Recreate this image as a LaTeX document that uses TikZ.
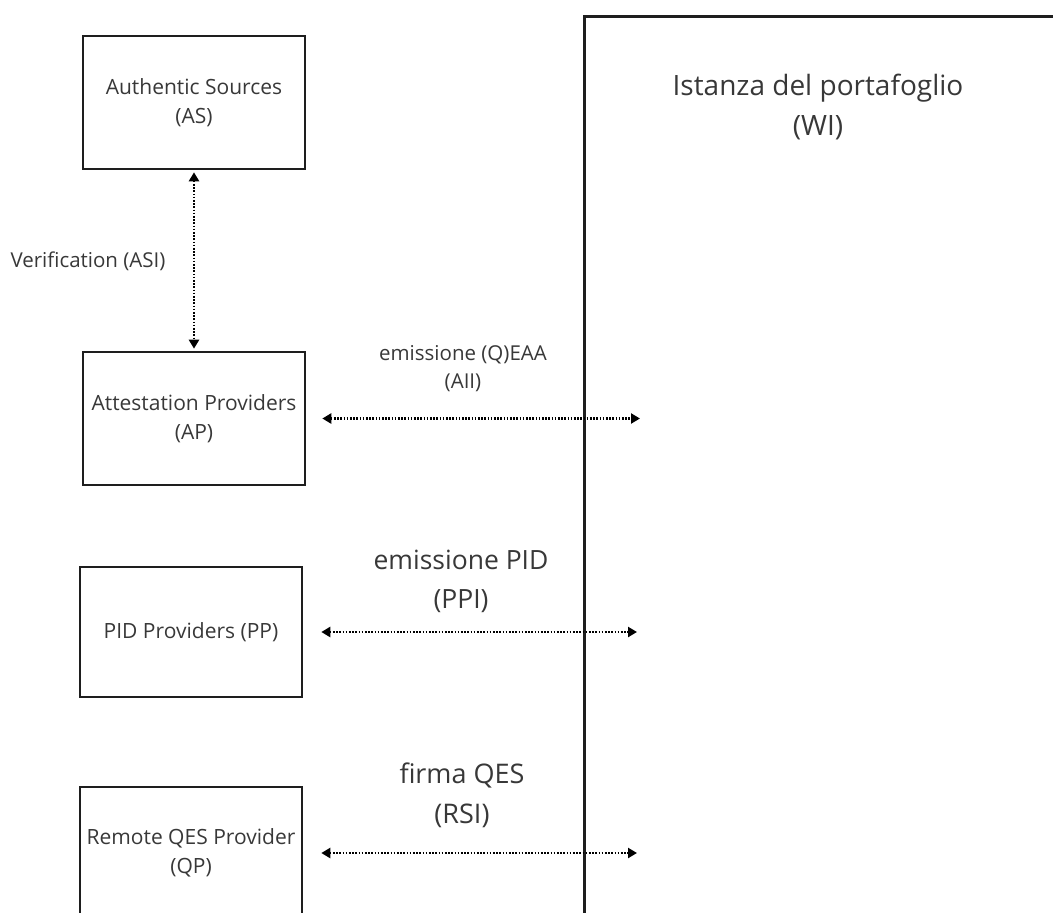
\documentclass[tikz,border=0pt]{standalone}
\usepackage{fontspec}
\setmainfont{Open Sans}
\usetikzlibrary{arrows.meta}
\definecolor{ink}{HTML}{383838}
\definecolor{edge}{HTML}{1E1E1E}
\begin{document}
\begin{tikzpicture}[x=1pt,y=-1pt,
  box/.style={draw=edge, line width=2.6pt, minimum width=222pt, minimum height=133pt,
    inner sep=0pt, align=center, text=ink, font=\fontsize{21}{29}\selectfont},
  small/.style={text=ink, align=center, inner sep=0pt, font=\fontsize{20.5}{28}\selectfont},
  big/.style={text=ink, align=center, inner sep=0pt, font=\fontsize{26.5}{39}\selectfont},
  link/.style={draw=black, line width=2.6pt, dash pattern=on 1.6pt off 1.6pt,
    {Triangle[length=9pt,width=10pt]}-{Triangle[length=9pt,width=10pt]}}
]
\useasboundingbox (0,0) rectangle (1053,913);
\clip (0,0) rectangle (1053,913);

% wallet instance, running past the right and bottom edges
\node[draw=edge, line width=2.6pt, anchor=north west, minimum width=560pt,
  minimum height=1000pt, inner sep=0pt] (WI) at (583,15) {};
\node[big, font=\fontsize{28}{40}\selectfont] (WItitle) at (818,107) {Istanza del portafoglio\\(WI)};

% providers on the left
\node[box] (AS) at (194,102.5) {Authentic Sources\\(AS)};
\node[box] (AP) at (194,418.5) {Attestation Providers\\(AP)};
\node[box, minimum height=130pt] (PP) at (191,632) {PID Providers (PP)};
\node[box, minimum height=132pt] (QP) at (191,853) {Remote QES Provider\\(QP)};

% free ends of the links inside the wallet instance
\coordinate (wiAP) at (640,418.5);
\coordinate (wiPP) at (637,632);
\coordinate (wiQP) at (637,853);

% links
\draw[link, shorten <=2pt, shorten >=2pt] (AS.south) -- (AP.north);
\node[small] (ASI) at (88,261) {Verification (ASI)};

\draw[link, shorten <=16pt] (AP.east) -- (wiAP);
\node[small] (AII) at (463,369) {emissione (Q)EAA\\(AII)};

\draw[link, shorten <=18pt] (PP.east) -- (wiPP);
\node[big] (PPI) at (461,581) {emissione PID\\(PPI)};

\draw[link, shorten <=18pt] (QP.east) -- (wiQP);
\node[big, font=\fontsize{27}{40}\selectfont] (RSI) at (462,795) {firma QES\\(RSI)};
\end{tikzpicture}
\end{document}
